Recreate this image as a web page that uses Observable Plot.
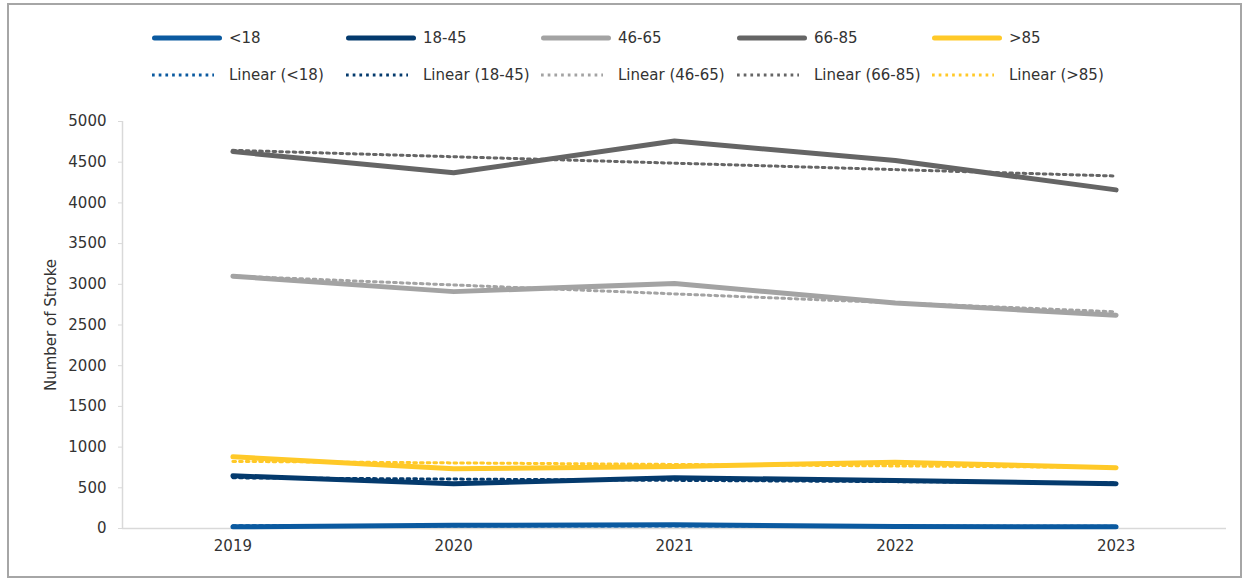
<!DOCTYPE html>
<html>
<head>
<meta charset="utf-8">
<script src="https://cdn.jsdelivr.net/npm/d3@7"></script>
<script src="https://cdn.jsdelivr.net/npm/@observablehq/plot@0.6"></script>
<style>
  html, body { margin: 0; padding: 0; background: #fff; }
  #wrap { position: relative; width: 1252px; height: 578px; overflow: hidden; font-family: "DejaVu Sans", sans-serif; color: #333; }
  #frame { position: absolute; left: 7px; top: 3px; width: 1231px; height: 571px; border: 2px solid #a6a6a6; pointer-events: none; }
  #legend { position: relative; height: 100px; }
  .item { position: absolute; display: flex; align-items: center; font-size: 15px; white-space: nowrap; }
  .item svg { display: block; }
  #chart { position: absolute; left: 0; top: 100px; }
</style>
</head>
<body>
<div id="wrap">
  <div id="legend"></div>
  <div id="chart"></div>
  <div id="frame"></div>
</div>
<script>
const years = [2019, 2020, 2021, 2022, 2023];
const seriesNames = ["<18", "18-45", "46-65", "66-85", ">85"];
const seriesColors = ["#0b5aa0", "#043a6d", "#a3a3a3", "#656565", "#ffc928"];
const under18 = [20, 40, 45, 25, 20];
const age18to45 = [647, 549, 623, 590, 549];
const age46to65 = [3100, 2910, 3010, 2770, 2620];
const age66to85 = [4630, 4370, 4760, 4520, 4160];
const over85 = [880, 733, 762, 815, 746];
const yTicks = [0, 500, 1000, 1500, 2000, 2500, 3000, 3500, 4000, 4500, 5000];

const seriesValues = [under18, age18to45, age46to65, age66to85, over85];
const data = seriesNames.flatMap((name, i) =>
  years.map((year, j) => ({ series: name, year, value: seriesValues[i][j] }))
);

// Legend (HTML)
const legend = document.getElementById("legend");
const starts = [152, 346, 541, 737, 932];
const esc = s => s.replace("<", "&lt;").replace(">", "&gt;");
seriesNames.forEach((name, i) => {
  const a = document.createElement("div");
  a.className = "item";
  a.style.left = starts[i] + "px";
  a.style.top = (38 - 10) + "px";
  a.style.height = "20px";
  a.innerHTML = `<svg width="77" height="20"><line x1="2.5" y1="10" x2="67.5" y2="10" stroke="${seriesColors[i]}" stroke-width="5" stroke-linecap="round"/></svg><span>${esc(name)}</span>`;
  legend.appendChild(a);
  const b = document.createElement("div");
  b.className = "item";
  b.style.left = starts[i] + "px";
  b.style.top = (75 - 10) + "px";
  b.style.height = "20px";
  b.innerHTML = `<svg width="77" height="20"><line x1="0" y1="10" x2="62" y2="10" stroke="${seriesColors[i]}" stroke-width="3" stroke-dasharray="2.7 4"/></svg><span>Linear (${esc(name)})</span>`;
  legend.appendChild(b);
});

const chart = Plot.plot({
  width: 1252,
  height: 478,
  marginLeft: 122,
  marginRight: 26,
  marginTop: 21,
  marginBottom: 50,
  style: { fontFamily: "DejaVu Sans, sans-serif", fontSize: "15px", color: "#333", background: "transparent" },
  x: { type: "linear", domain: [2018.5, 2023.5] },
  y: { domain: [0, 5000] },
  color: { domain: seriesNames, range: seriesColors },
  marks: [
    Plot.ruleY([0], { x1: 2018.5, x2: 2023.5, stroke: "#d9d9d9", strokeWidth: 1.5 }),
    Plot.ruleX([2018.5], { y1: 0, y2: 5000, stroke: "#d9d9d9", strokeWidth: 1.5 }),
    Plot.axisY({
      ticks: yTicks, tickFormat: "d", tickSize: 4, tickPadding: 12, stroke: "#d9d9d9",
      label: "Number of Stroke", labelAnchor: "center", labelArrow: "none", labelOffset: 77, fontSize: 15
    }),
    Plot.axisX({ ticks: years, tickFormat: "d", tickSize: 0, tickPadding: 12, label: null, fontSize: 15 }),
    Plot.line(data, {
      x: "year", y: "value", z: "series", stroke: "series",
      strokeWidth: 5, strokeLinecap: "round", strokeLinejoin: "round"
    }),
    Plot.linearRegressionY(data, {
      x: "year", y: "value", z: "series", stroke: "series", ci: 0,
      strokeWidth: 3, strokeDasharray: "2.7 4"
    })
  ]
});
document.getElementById("chart").appendChild(chart);
</script>
</body>
</html>
